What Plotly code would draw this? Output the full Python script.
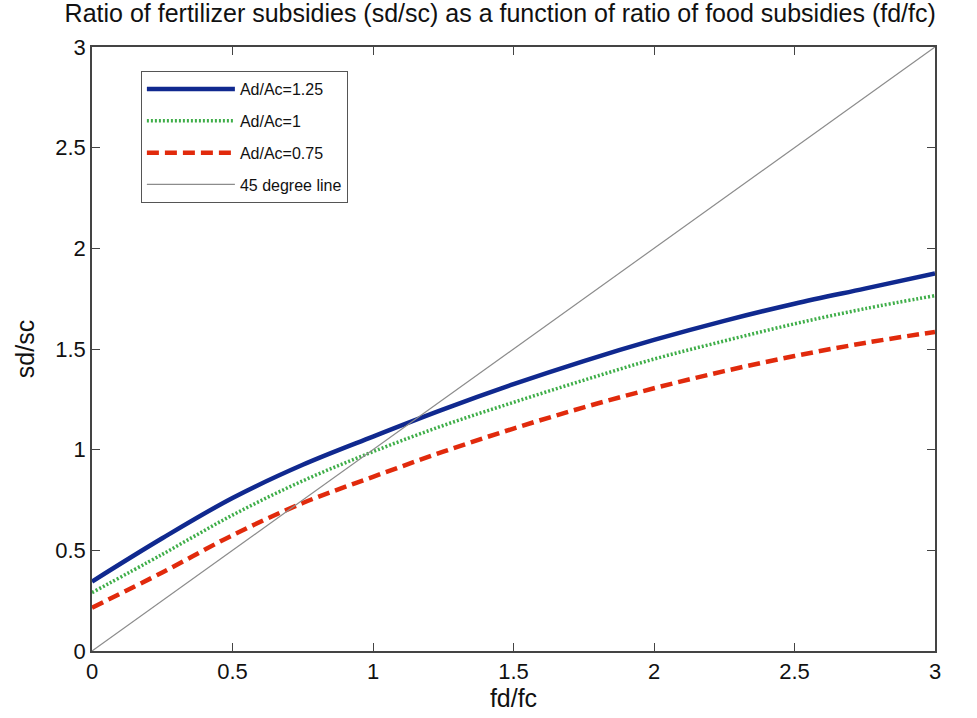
import plotly.graph_objects as go

# fd/fc grid and sd/sc values for each Ad/Ac ratio
fd_fc = [0, 0.25, 0.5, 0.75, 1, 1.25, 1.5, 1.75, 2, 2.25, 2.5, 2.75, 3]
sd_sc_125 = [0.345, 0.56, 0.76, 0.925, 1.065, 1.2, 1.325, 1.44, 1.545, 1.64, 1.725, 1.80, 1.875]
sd_sc_100 = [0.29, 0.48, 0.675, 0.845, 0.99, 1.12, 1.235, 1.345, 1.45, 1.54, 1.625, 1.70, 1.765]
sd_sc_075 = [0.215, 0.39, 0.575, 0.735, 0.865, 0.99, 1.105, 1.21, 1.305, 1.39, 1.465, 1.53, 1.585]
diag_x = [0, 3]
diag_y = [0, 3]

tick_vals = [0, 0.5, 1, 1.5, 2, 2.5, 3]
tick_text = ["0", "0.5", "1", "1.5", "2", "2.5", "3"]

font = "Liberation Sans, Arial, sans-serif"

fig = go.Figure()
fig.add_trace(go.Scatter(x=fd_fc, y=sd_sc_125, mode="lines", name="Ad/Ac=1.25",
                         legendgroup="a", line=dict(color="#10298f", width=4.5, shape="spline")))
fig.add_trace(go.Scatter(x=fd_fc, y=sd_sc_100, mode="lines", name="Ad/Ac=1",
                         legendgroup="b", line=dict(color="#3fae49", width=3.5, dash="2px,2px", shape="spline")))
fig.add_trace(go.Scatter(x=fd_fc, y=sd_sc_075, mode="lines", name="Ad/Ac=0.75",
                         legendgroup="c", line=dict(color="#e12a0c", width=4.5, dash="12px,6px", shape="spline")))
fig.add_trace(go.Scatter(x=diag_x, y=diag_y, mode="lines", name="45 degree line",
                         legendgroup="d", line=dict(color="#8c8c8c", width=1.2)))

axis_common = dict(
    range=[0, 3], tickvals=tick_vals, ticktext=tick_text,
    showgrid=False, zeroline=False, showline=True, linecolor="#444444", linewidth=1.5,
    mirror="ticks", ticks="inside", ticklen=8, tickcolor="#444444",
    tickfont=dict(family=font, size=22, color="#111111"),
)

fig.update_layout(
    width=977, height=718,
    margin=dict(l=92, r=42, t=47, b=67),
    paper_bgcolor="white", plot_bgcolor="white",
    title=dict(text="Ratio of fertilizer subsidies (sd/sc) as a function of ratio of food subsidies (fd/fc)",
               x=0.512, xanchor="center", y=0.994, yanchor="top",
               font=dict(family=font, size=25, color="#111111")),
    xaxis=dict(title=dict(text="fd/fc", font=dict(family=font, size=25, color="#111111"), standoff=2),
               **axis_common),
    yaxis=dict(title=dict(text="sd/sc", font=dict(family=font, size=25, color="#111111"), standoff=14),
               **axis_common),
    legend=dict(x=0.058, y=0.96, xanchor="left", yanchor="top",
                bordercolor="#555555", borderwidth=1, bgcolor="white",
                traceorder="grouped", tracegroupgap=8, itemwidth=88,
                font=dict(family=font, size=16, color="#111111")),
)

fig.write_html("out.html")
